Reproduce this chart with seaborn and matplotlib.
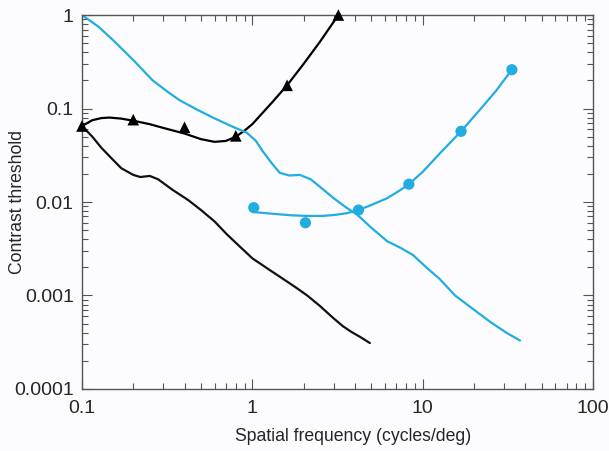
import pandas as pd
import matplotlib
matplotlib.use("Agg")
import matplotlib.pyplot as plt
import seaborn as sns

# black triangles (data points)
tri_x = [0.1, 0.2, 0.4, 0.8, 1.6, 3.2]
tri_y = [0.065, 0.076, 0.063, 0.051, 0.177, 1.0]

# black smooth curve through the triangles
tri_fit_x = [0.1, 0.115, 0.13, 0.145, 0.17, 0.2, 0.25, 0.3, 0.4, 0.5, 0.6, 0.7, 0.8, 0.9, 1.0, 1.15, 1.3, 1.6, 2.0, 2.5, 3.2]
tri_fit_y = [0.065, 0.075, 0.079, 0.08, 0.078, 0.074, 0.068, 0.062, 0.054, 0.047, 0.044, 0.045, 0.05, 0.058, 0.068, 0.09, 0.115, 0.177, 0.3, 0.52, 1.0]

# black falling curve
blk_x = [0.1, 0.115, 0.13, 0.15, 0.17, 0.2, 0.22, 0.25, 0.28, 0.34, 0.42, 0.5, 0.6, 0.71, 0.85, 1.0, 1.25, 1.52, 1.8, 2.1, 2.5, 3.0, 3.4, 3.8, 4.3, 4.9]
blk_y = [0.065, 0.05, 0.038, 0.029, 0.023, 0.0195, 0.0185, 0.019, 0.0175, 0.0135, 0.0105, 0.0082, 0.0062, 0.0045, 0.0033, 0.0025, 0.0019, 0.0015, 0.00122, 0.001, 0.00077, 0.00057, 0.00047, 0.00041, 0.00036, 0.00031]

# blue falling curve
blu_x = [0.1, 0.125, 0.152, 0.2, 0.26, 0.32, 0.376, 0.47, 0.587, 0.75, 0.93, 1.05, 1.15, 1.3, 1.45, 1.65, 1.9, 2.2, 2.5, 3.0, 3.6, 4.1, 5.0, 6.2, 7.5, 8.8, 10.5, 12.6, 15.5, 19.7, 25.0, 31.0, 37.3]
blu_y = [1.0, 0.75, 0.54, 0.33, 0.2, 0.15, 0.122, 0.098, 0.08, 0.065, 0.055, 0.045, 0.035, 0.026, 0.0205, 0.0192, 0.0195, 0.0175, 0.0145, 0.011, 0.0086, 0.0074, 0.0053, 0.0038, 0.0032, 0.0027, 0.002, 0.0015, 0.001, 0.00072, 0.00052, 0.0004, 0.00033]

# blue dots (data points)
dot_x = [1.02, 2.05, 4.2, 8.3, 16.8, 33.4]
dot_y = [0.0087, 0.006, 0.0082, 0.0155, 0.057, 0.26]

# blue smooth curve through the dots
dot_fit_x = [1.02, 1.3, 1.7, 2.1, 2.6, 3.1, 3.6, 4.2, 5.0, 6.2, 7.2, 8.3, 10.0, 12.6, 16.8, 22.0, 27.0, 33.4]
dot_fit_y = [0.0078, 0.0075, 0.0072, 0.0071, 0.0071, 0.0073, 0.0076, 0.0082, 0.0093, 0.011, 0.013, 0.0155, 0.021, 0.033, 0.057, 0.1, 0.155, 0.26]

BLUE = "#22ade0"
BG = "#fcfbfd"

sns.set_style("ticks")
plt.rcParams["font.family"] = ["Liberation Sans", "DejaVu Sans"]

fig = plt.figure(figsize=(6.09, 4.51), dpi=100, facecolor=BG)
ax = fig.add_axes([0.1346, 0.1375, 0.8391, 0.8292])
ax.set_facecolor(BG)

sns.lineplot(x=tri_fit_x, y=tri_fit_y, sort=False, color="black", lw=1.6, ax=ax)
sns.lineplot(x=blk_x, y=blk_y, sort=False, color="#111111", lw=1.6, ax=ax)
sns.lineplot(x=blu_x, y=blu_y, sort=False, color=BLUE, lw=1.6, ax=ax)
sns.lineplot(x=dot_fit_x, y=dot_fit_y, sort=False, color=BLUE, lw=1.6, ax=ax)
sns.scatterplot(x=tri_x, y=tri_y, marker="^", s=70, color="black", edgecolor="none", ax=ax, zorder=5, clip_on=False)
sns.scatterplot(x=dot_x, y=dot_y, marker="o", s=65, color=BLUE, edgecolor="none", ax=ax, zorder=5, clip_on=False)

ax.set_xscale("log")
ax.set_yscale("log")
ax.set_xlim(0.1, 100)
ax.set_ylim(0.0001, 1)
ax.set_xticks([0.1, 1, 10, 100])
ax.set_xticklabels(["0.1", "1", "10", "100"])
ax.set_yticks([0.0001, 0.001, 0.01, 0.1, 1])
ax.set_yticklabels(["0.0001", "0.001", "0.01", "0.1", "1"])

for s in ax.spines.values():
    s.set_color("#555555")
    s.set_linewidth(1.0)
ax.tick_params(which="both", direction="in", top=True, right=True, color="#555555", width=0.8)
ax.tick_params(which="major", length=7, labelsize=14, pad=6)
ax.tick_params(axis="x", which="major", pad=8)
ax.tick_params(which="minor", length=4.5)

ax.set_xlabel("Spatial frequency (cycles/deg)", fontsize=12.7)
ax.set_ylabel("Contrast threshold", fontsize=12.7)
ax.xaxis.set_label_coords(0.53, -0.105)
ax.yaxis.set_label_coords(-0.11, 0.5)

fig.savefig("out.png", dpi=100, facecolor=BG)
